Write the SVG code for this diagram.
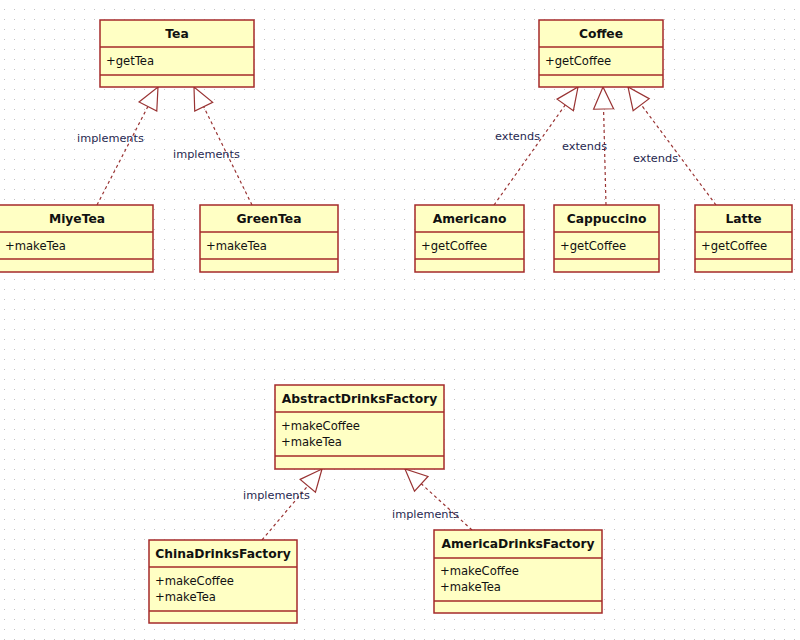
<svg xmlns="http://www.w3.org/2000/svg" width="800" height="640" viewBox="0 0 800 640">
  <defs>
    <pattern id="grid" width="10" height="10" x="4" y="9" patternUnits="userSpaceOnUse">
      <rect width="1" height="1" fill="#c4c4c4"/>
    </pattern>
    <!-- hollow triangle head for realization / generalization -->
    <marker id="hollow" markerWidth="24" markerHeight="24" refX="22" refY="11" orient="auto" markerUnits="userSpaceOnUse" overflow="visible">
      <path d="M0,1 L22,11 L0,21 Z" fill="#ffffff" stroke="#993333" stroke-width="1.2" stroke-linejoin="miter"/>
    </marker>
    <style>
      .box { fill: #ffffc4; stroke: #a52a2a; stroke-width: 1.5; }
      .sep { stroke: #a52a2a; stroke-width: 1.5; }
      .name { font-family: "DejaVu Sans", Verdana, sans-serif; font-size: 12.3px; font-weight: bold; fill: #111111; text-anchor: middle; }
      .member { font-family: "DejaVu Sans", Verdana, sans-serif; font-size: 11.6px; fill: #111111; }
      .rel { fill: none; stroke: #993333; stroke-width: 1.2; stroke-dasharray: 3 3; marker-end: url(#hollow); }
      .label { font-family: "DejaVu Sans", Verdana, sans-serif; font-size: 11.3px; fill: #1f2850; }
    </style>
  </defs>

  <rect width="800" height="640" fill="#ffffff"/>
  <rect width="800" height="640" fill="url(#grid)"/>

  <!-- relationships -->
  <g id="connectors">
    <line class="rel" x1="97" y1="205" x2="158" y2="87"/>
    <line class="rel" x1="252" y1="205" x2="194" y2="87"/>
    <line class="rel" x1="494" y1="205" x2="578" y2="87"/>
    <line class="rel" x1="606" y1="205" x2="603" y2="87"/>
    <line class="rel" x1="716" y1="205" x2="628" y2="87"/>
    <line class="rel" x1="262" y1="540" x2="322" y2="469"/>
    <line class="rel" x1="472" y1="530" x2="405" y2="469"/>
    <text class="label" x="77" y="142">implements</text>
    <text class="label" x="173" y="158">implements</text>
    <text class="label" x="495" y="140">extends</text>
    <text class="label" x="562" y="150">extends</text>
    <text class="label" x="633" y="162">extends</text>
    <text class="label" x="243" y="499">implements</text>
    <text class="label" x="392" y="518">implements</text>
  </g>

  <g id="Tea">
    <rect class="box" x="100" y="20" width="154" height="67"/>
    <line class="sep" x1="100" y1="47" x2="254" y2="47"/>
    <line class="sep" x1="100" y1="75" x2="254" y2="75"/>
    <text class="name" x="177" y="38">Tea</text>
    <text class="member" x="106" y="65">+getTea</text>
  </g>

  <g id="MiyeTea">
    <rect class="box" x="-1" y="205" width="154" height="67"/>
    <line class="sep" x1="-1" y1="232" x2="153" y2="232"/>
    <line class="sep" x1="-1" y1="259" x2="153" y2="259"/>
    <text class="name" x="77" y="223">MiyeTea</text>
    <text class="member" x="5" y="250">+makeTea</text>
  </g>

  <g id="GreenTea">
    <rect class="box" x="200" y="205" width="138" height="67"/>
    <line class="sep" x1="200" y1="232" x2="338" y2="232"/>
    <line class="sep" x1="200" y1="259" x2="338" y2="259"/>
    <text class="name" x="269" y="223">GreenTea</text>
    <text class="member" x="206" y="250">+makeTea</text>
  </g>

  <g id="Coffee">
    <rect class="box" x="539" y="20" width="124" height="67"/>
    <line class="sep" x1="539" y1="47" x2="663" y2="47"/>
    <line class="sep" x1="539" y1="75" x2="663" y2="75"/>
    <text class="name" x="601" y="38">Coffee</text>
    <text class="member" x="545" y="65">+getCoffee</text>
  </g>

  <g id="Americano">
    <rect class="box" x="415" y="205" width="109" height="67"/>
    <line class="sep" x1="415" y1="232" x2="524" y2="232"/>
    <line class="sep" x1="415" y1="259" x2="524" y2="259"/>
    <text class="name" x="469.5" y="223">Americano</text>
    <text class="member" x="421" y="250">+getCoffee</text>
  </g>

  <g id="Cappuccino">
    <rect class="box" x="554" y="205" width="105" height="67"/>
    <line class="sep" x1="554" y1="232" x2="659" y2="232"/>
    <line class="sep" x1="554" y1="259" x2="659" y2="259"/>
    <text class="name" x="606.5" y="223">Cappuccino</text>
    <text class="member" x="560" y="250">+getCoffee</text>
  </g>

  <g id="Latte">
    <rect class="box" x="695" y="205" width="97" height="67"/>
    <line class="sep" x1="695" y1="232" x2="792" y2="232"/>
    <line class="sep" x1="695" y1="259" x2="792" y2="259"/>
    <text class="name" x="743.5" y="223">Latte</text>
    <text class="member" x="701" y="250">+getCoffee</text>
  </g>

  <g id="AbstractDrinksFactory">
    <rect class="box" x="275" y="385" width="169" height="84"/>
    <line class="sep" x1="275" y1="412" x2="444" y2="412"/>
    <line class="sep" x1="275" y1="456" x2="444" y2="456"/>
    <text class="name" x="359.5" y="403">AbstractDrinksFactory</text>
    <text class="member" x="281" y="430">+makeCoffee</text>
    <text class="member" x="281" y="446">+makeTea</text>
  </g>

  <g id="ChinaDrinksFactory">
    <rect class="box" x="149" y="540" width="148" height="83"/>
    <line class="sep" x1="149" y1="567" x2="297" y2="567"/>
    <line class="sep" x1="149" y1="611" x2="297" y2="611"/>
    <text class="name" x="223" y="558">ChinaDrinksFactory</text>
    <text class="member" x="155" y="585">+makeCoffee</text>
    <text class="member" x="155" y="601">+makeTea</text>
  </g>

  <g id="AmericaDrinksFactory">
    <rect class="box" x="434" y="530" width="168" height="83"/>
    <line class="sep" x1="434" y1="558" x2="602" y2="558"/>
    <line class="sep" x1="434" y1="601" x2="602" y2="601"/>
    <text class="name" x="518" y="548">AmericaDrinksFactory</text>
    <text class="member" x="440" y="575">+makeCoffee</text>
    <text class="member" x="440" y="591">+makeTea</text>
  </g>
</svg>
